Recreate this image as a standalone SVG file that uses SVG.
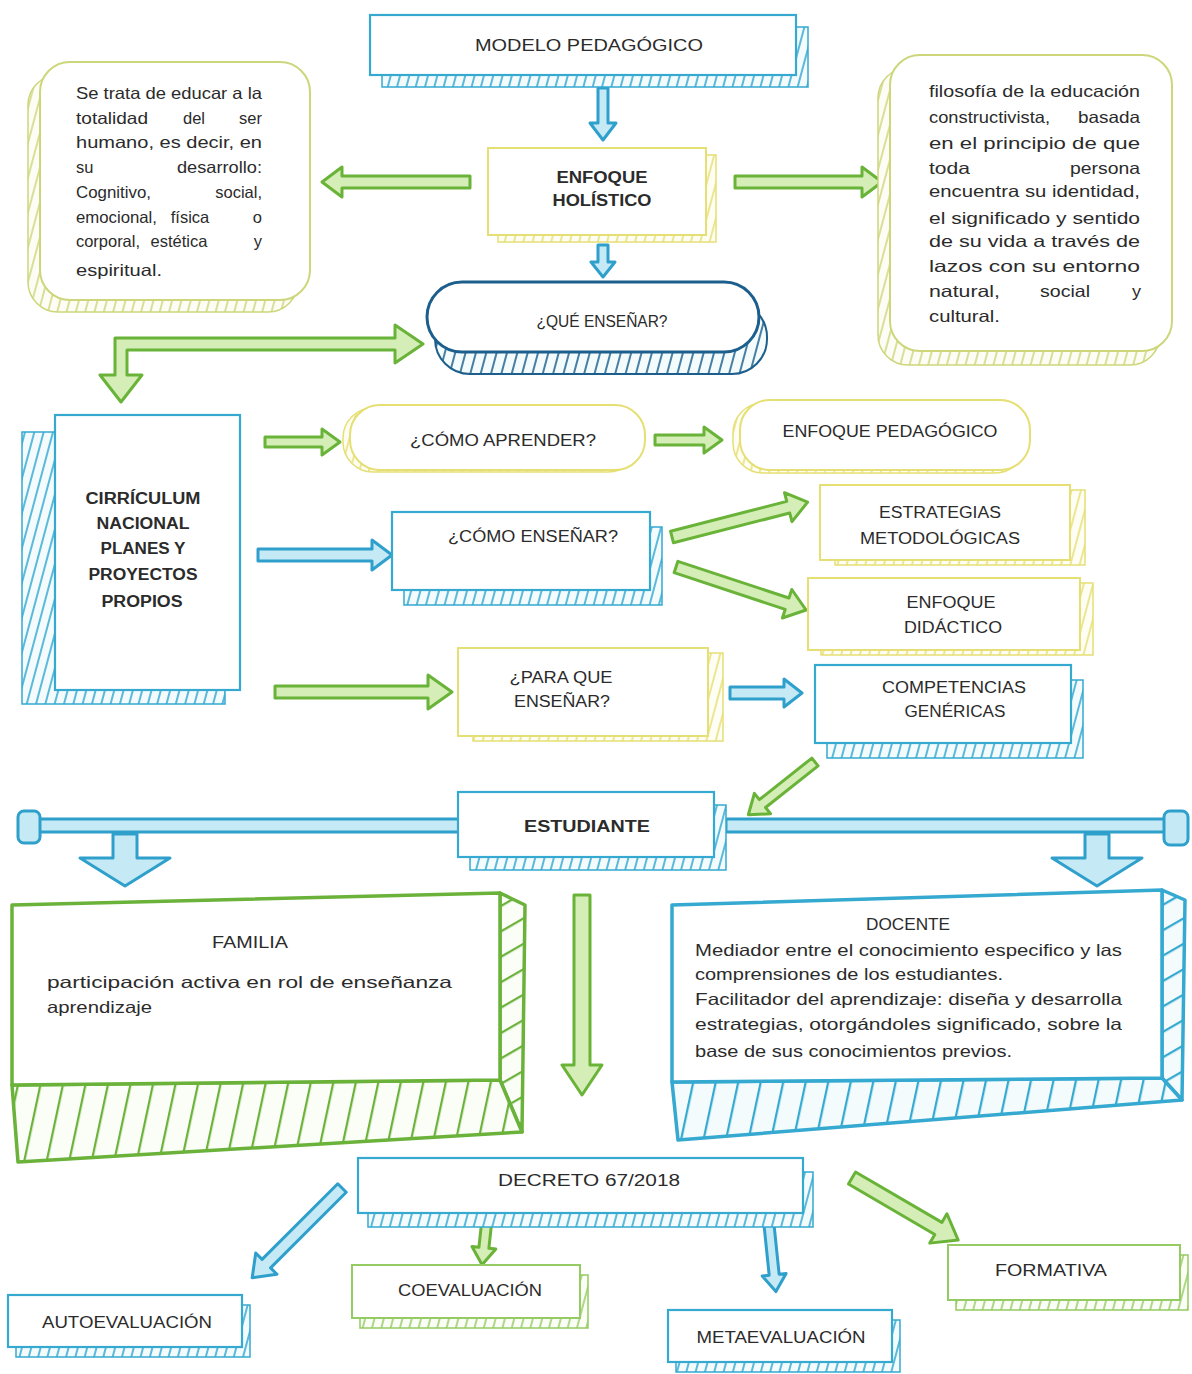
<svg xmlns="http://www.w3.org/2000/svg" width="1192" height="1374" viewBox="0 0 1192 1374">
<defs>
<pattern id="hB" width="9" height="9" patternUnits="userSpaceOnUse" patternTransform="rotate(15)"><rect width="9" height="9" fill="#f3fbfd"/><line x1="1" y1="0" x2="1" y2="9" stroke="#35a9d0" stroke-width="1.6"/></pattern>
<pattern id="hBD" width="10" height="10" patternUnits="userSpaceOnUse" patternTransform="rotate(15)"><rect width="10" height="10" fill="#f3fbfd"/><line x1="1" y1="0" x2="1" y2="10" stroke="#1d5f8c" stroke-width="1.6"/></pattern>
<pattern id="hG" width="22" height="22" patternUnits="userSpaceOnUse" patternTransform="rotate(12)"><rect width="22" height="22" fill="#fbfdf7"/><line x1="1" y1="0" x2="1" y2="22" stroke="#6ab23a" stroke-width="2.5"/></pattern>
<pattern id="hGH" width="22" height="22" patternUnits="userSpaceOnUse" patternTransform="rotate(60)"><rect width="22" height="22" fill="#fbfdf7"/><line x1="1" y1="0" x2="1" y2="22" stroke="#6ab23a" stroke-width="2.5"/></pattern>
<pattern id="hBB" width="22" height="22" patternUnits="userSpaceOnUse" patternTransform="rotate(12)"><rect width="22" height="22" fill="#f3fbfd"/><line x1="1" y1="0" x2="1" y2="22" stroke="#35a9d0" stroke-width="2.5"/></pattern>
<pattern id="hBH" width="22" height="22" patternUnits="userSpaceOnUse" patternTransform="rotate(60)"><rect width="22" height="22" fill="#f3fbfd"/><line x1="1" y1="0" x2="1" y2="22" stroke="#35a9d0" stroke-width="2.5"/></pattern>
<pattern id="hGs" width="9" height="9" patternUnits="userSpaceOnUse" patternTransform="rotate(15)"><rect width="9" height="9" fill="#fbfdf7"/><line x1="1" y1="0" x2="1" y2="9" stroke="#94cb62" stroke-width="1.5"/></pattern>
<pattern id="hY" width="9" height="9" patternUnits="userSpaceOnUse" patternTransform="rotate(15)"><rect width="9" height="9" fill="#fefef4"/><line x1="1" y1="0" x2="1" y2="9" stroke="#e6df74" stroke-width="1.5"/></pattern>
<pattern id="hYG" width="9" height="9" patternUnits="userSpaceOnUse" patternTransform="rotate(15)"><rect width="9" height="9" fill="#fdfdf5"/><line x1="1" y1="0" x2="1" y2="9" stroke="#cdd67a" stroke-width="1.5"/></pattern>
</defs>
<style>
.t{font-family:"Liberation Sans",Arial,sans-serif;font-size:16px;fill:#2b2b2b}
.c{text-anchor:middle}
.e{text-anchor:end}
.b{font-weight:bold}
.p{font-size:16.5px}
.fb{fill:#fff;stroke:#35a9d0;stroke-width:2.2}
.fbd{fill:#fff;stroke:#1d5f8c;stroke-width:3}
.fg{fill:#fff;stroke:#6ab23a;stroke-width:3.5}
.fgs{fill:#fff;stroke:#94cb62;stroke-width:2}
.fy{fill:#fff;stroke:#e6df74;stroke-width:2}
.fyg{fill:#fff;stroke:#cdd67a;stroke-width:2}
.sb{fill:url(#hB);stroke:#35a9d0;stroke-width:1.5}
.sbd{fill:url(#hBD);stroke:#1d5f8c;stroke-width:2}
.sg{fill:url(#hGs);stroke:#94cb62;stroke-width:1.5}
.sy{fill:url(#hY);stroke:#e6df74;stroke-width:1.5}
.syg{fill:url(#hYG);stroke:#cdd67a;stroke-width:1.5}
.ag{fill:#d5edb6;stroke:#69b338;stroke-width:3;stroke-linejoin:round}
.ab{fill:#c6eaf5;stroke:#2f9fcb;stroke-width:3;stroke-linejoin:round}
</style>
<rect width="1192" height="1374" fill="#fff"/>

<g id="connectors">
<path class="ab" transform="translate(603,88) rotate(90)" d="M0,-5H35V-13L52,0L35,13V5H0Z"/>
<path class="ag" transform="translate(470,182) rotate(180)" d="M0,-6H128V-15L148,0L128,15V6H0Z"/>
<path class="ag" transform="translate(735,182)" d="M0,-6H127V-15L147,0L127,15V6H0Z"/>
<path class="ab" transform="translate(603,245) rotate(90)" d="M0,-5H17V-12L32,0L17,12V5H0Z"/>
<path class="ag" d="M115,338H395V325L423,344L395,363V350H127V375H142L121,402L100,375H115Z"/>
<path class="ag" transform="translate(265,442)" d="M0,-5H57V-13L75,0L57,13V5H0Z"/>
<path class="ag" transform="translate(655,440)" d="M0,-5H49V-13L67,0L49,13V5H0Z"/>
<path class="ab" transform="translate(258,555)" d="M0,-6H114V-15L134,0L114,15V6H0Z"/>
<path class="ag" transform="translate(672,537) rotate(-14.4)" d="M0,-6H120V-15L140,0L120,15V6H0Z"/>
<path class="ag" transform="translate(676,567) rotate(18.3)" d="M0,-6H117V-15L137,0L117,15V6H0Z"/>
<path class="ag" transform="translate(275,692)" d="M0,-6H153V-17L177,0L153,17V6H0Z"/>
<path class="ab" transform="translate(730,693)" d="M0,-6H54V-14L72,0L54,14V6H0Z"/>
<path class="ag" transform="translate(815,762) rotate(141.65)" d="M0,-5H67V-13L85,0L67,13V5H0Z"/>
<rect class="ab" x="30" y="819" width="430" height="13"/>
<rect class="ab" x="18" y="811" width="22" height="32" rx="6"/>
<path class="ab" transform="translate(125,834) rotate(90)" d="M0,-12H24V-45L52,0L24,45V12H0Z"/>
<rect class="ab" x="726" y="819" width="446" height="13"/>
<rect class="ab" x="1164" y="811" width="24" height="34" rx="6"/>
<path class="ab" transform="translate(1097,834) rotate(90)" d="M0,-12H24V-45L52,0L24,45V12H0Z"/>
<path class="ag" transform="translate(582,895) rotate(90)" d="M0,-8H170V-20L200,0L170,20V8H0Z"/>
<path class="ab" transform="translate(342,1188) rotate(135)" d="M0,-6H107V-15L127,0L107,15V6H0Z"/>
<path class="ag" transform="translate(488,1210) rotate(96.2)" d="M0,-5H38V-12L55,0L38,12V5H0Z"/>
<path class="ab" transform="translate(768,1215) rotate(84.1)" d="M0,-5H60V-12L77,0L60,12V5H0Z"/>
<path class="ag" transform="translate(852,1178) rotate(30.3)" d="M0,-7H100V-17L123,0L100,17V7H0Z"/>
</g>

<g id="n-modelo">
<rect class="sb" x="382" y="27" width="426" height="60"/>
<rect class="fb" x="370" y="15" width="426" height="60"/>
<text class="t c" x="589" y="51" textLength="228" lengthAdjust="spacingAndGlyphs">MODELO PEDAGÓGICO</text>
</g>

<g id="n-holistico">
<rect class="sy" x="498" y="155" width="218" height="87"/>
<rect class="fy" x="488" y="148" width="218" height="87"/>
<text class="t c b" x="602" y="183" textLength="91" lengthAdjust="spacingAndGlyphs">ENFOQUE</text>
<text class="t c b" x="602" y="206" textLength="99" lengthAdjust="spacingAndGlyphs">HOLÍSTICO</text>
</g>

<g id="n-holistico-def">
<rect class="syg" x="28" y="75" width="270" height="237" rx="30"/>
<rect class="fyg" x="40" y="62" width="270" height="238" rx="30"/>
<text class="t p" x="76" y="99" textLength="186" lengthAdjust="spacingAndGlyphs">Se trata de educar a la</text>
<text class="t p" x="76" y="124" textLength="72" lengthAdjust="spacingAndGlyphs">totalidad</text><text class="t p c" x="194" y="124">del</text><text class="t p e" x="262" y="124">ser</text>
<text class="t p" x="76" y="148" textLength="186" lengthAdjust="spacingAndGlyphs">humano, es decir, en</text>
<text class="t p" x="76" y="173">su</text><text class="t p" x="177" y="173" textLength="85" lengthAdjust="spacingAndGlyphs">desarrollo:</text>
<text class="t p" x="76" y="198" textLength="75" lengthAdjust="spacingAndGlyphs">Cognitivo,</text><text class="t p e" x="262" y="198">social,</text>
<text class="t p" x="76" y="223" textLength="81" lengthAdjust="spacingAndGlyphs">emocional,</text><text class="t p c" x="190" y="223">física</text><text class="t p e" x="262" y="223">o</text>
<text class="t p" x="76" y="247" textLength="64" lengthAdjust="spacingAndGlyphs">corporal,</text><text class="t p c" x="179" y="247">estética</text><text class="t p e" x="262" y="247">y</text>
<text class="t p" x="76" y="276" textLength="86" lengthAdjust="spacingAndGlyphs">espiritual.</text>
</g>

<g id="n-filosofia">
<rect class="syg" x="878" y="68" width="282" height="297" rx="30"/>
<rect class="fyg" x="890" y="55" width="282" height="296" rx="30"/>
<text class="t p" x="929" y="97" textLength="211" lengthAdjust="spacingAndGlyphs">filosofía de la educación</text>
<text class="t p" x="929" y="123" textLength="121" lengthAdjust="spacingAndGlyphs">constructivista,</text><text class="t p" x="1078" y="123" textLength="62" lengthAdjust="spacingAndGlyphs">basada</text>
<text class="t p" x="929" y="149" textLength="211" lengthAdjust="spacingAndGlyphs">en el principio de que</text>
<text class="t p" x="929" y="174" textLength="41" lengthAdjust="spacingAndGlyphs">toda</text><text class="t p" x="1070" y="174" textLength="70" lengthAdjust="spacingAndGlyphs">persona</text>
<text class="t p" x="929" y="197" textLength="211" lengthAdjust="spacingAndGlyphs">encuentra su identidad,</text>
<text class="t p" x="929" y="224" textLength="211" lengthAdjust="spacingAndGlyphs">el significado y sentido</text>
<text class="t p" x="929" y="247" textLength="211" lengthAdjust="spacingAndGlyphs">de su vida a través de</text>
<text class="t p" x="929" y="272" textLength="211" lengthAdjust="spacingAndGlyphs">lazos con su entorno</text>
<text class="t p" x="929" y="297" textLength="71" lengthAdjust="spacingAndGlyphs">natural,</text><text class="t p" x="1040" y="297" textLength="50" lengthAdjust="spacingAndGlyphs">social</text><text class="t p" x="1132" y="297" textLength="9" lengthAdjust="spacingAndGlyphs">y</text>
<text class="t p" x="929" y="322" textLength="71" lengthAdjust="spacingAndGlyphs">cultural.</text>
</g>

<g id="n-que">
<rect class="sbd" x="435" y="302" width="332" height="72" rx="35"/>
<rect class="fbd" x="427" y="282" width="332" height="70" rx="35"/>
<text class="t c" x="602" y="327" textLength="131" lengthAdjust="spacingAndGlyphs">¿QUÉ ENSEÑAR?</text>
</g>

<g id="n-curriculum">
<rect class="sb" x="22" y="432" width="203" height="272"/>
<rect class="fb" x="55" y="415" width="185" height="275"/>
<text class="t c b" x="143" y="504" textLength="115" lengthAdjust="spacingAndGlyphs">CIRRÍCULUM</text>
<text class="t c b" x="143" y="529" textLength="93" lengthAdjust="spacingAndGlyphs">NACIONAL</text>
<text class="t c b" x="143" y="554" textLength="85" lengthAdjust="spacingAndGlyphs">PLANES Y</text>
<text class="t c b" x="143" y="580" textLength="109" lengthAdjust="spacingAndGlyphs">PROYECTOS</text>
<text class="t c b" x="142" y="607" textLength="81" lengthAdjust="spacingAndGlyphs">PROPIOS</text>
</g>

<g id="n-aprender">
<rect class="sy" x="343" y="408" width="295" height="64" rx="30"/>
<rect class="fy" x="350" y="405" width="295" height="65" rx="30"/>
<text class="t c" x="503" y="446" textLength="186" lengthAdjust="spacingAndGlyphs">¿CÓMO APRENDER?</text>
</g>

<g id="n-enfoque-ped">
<rect class="sy" x="733" y="403" width="292" height="70" rx="30"/>
<rect class="fy" x="740" y="400" width="290" height="70" rx="30"/>
<text class="t c" x="890" y="437" textLength="215" lengthAdjust="spacingAndGlyphs">ENFOQUE PEDAGÓGICO</text>
</g>

<g id="n-ensenar">
<rect class="sb" x="404" y="527" width="258" height="78"/>
<rect class="fb" x="392" y="512" width="258" height="78"/>
<text class="t c" x="533" y="542" textLength="170" lengthAdjust="spacingAndGlyphs">¿CÓMO ENSEÑAR?</text>
</g>

<g id="n-estrategias">
<rect class="sy" x="835" y="490" width="250" height="75"/>
<rect class="fy" x="820" y="485" width="250" height="75"/>
<text class="t c" x="940" y="518" textLength="122" lengthAdjust="spacingAndGlyphs">ESTRATEGIAS</text>
<text class="t c" x="940" y="544" textLength="160" lengthAdjust="spacingAndGlyphs">METODOLÓGICAS</text>
</g>

<g id="n-didactico">
<rect class="sy" x="821" y="583" width="272" height="72"/>
<rect class="fy" x="808" y="578" width="272" height="72"/>
<text class="t c" x="951" y="608" textLength="89" lengthAdjust="spacingAndGlyphs">ENFOQUE</text>
<text class="t c" x="953" y="633" textLength="98" lengthAdjust="spacingAndGlyphs">DIDÁCTICO</text>
</g>

<g id="n-para">
<rect class="sy" x="473" y="653" width="250" height="88"/>
<rect class="fy" x="458" y="648" width="250" height="88"/>
<text class="t c" x="561" y="683" textLength="103" lengthAdjust="spacingAndGlyphs">¿PARA QUE</text>
<text class="t c" x="562" y="707" textLength="96" lengthAdjust="spacingAndGlyphs">ENSEÑAR?</text>
</g>

<g id="n-competencias">
<rect class="sb" x="827" y="680" width="256" height="78"/>
<rect class="fb" x="815" y="665" width="256" height="78"/>
<text class="t c" x="954" y="693" textLength="144" lengthAdjust="spacingAndGlyphs">COMPETENCIAS</text>
<text class="t c" x="955" y="717" textLength="101" lengthAdjust="spacingAndGlyphs">GENÉRICAS</text>
</g>

<g id="n-estudiante">
<rect class="sb" x="470" y="805" width="256" height="65"/>
<rect class="fb" x="458" y="792" width="256" height="65"/>
<text class="t c b" x="587" y="832" textLength="126" lengthAdjust="spacingAndGlyphs">ESTUDIANTE</text>
</g>

<g id="n-familia">
<polygon points="500,893 525,905 522,1132 500,1080" fill="url(#hGH)" stroke="#6ab23a" stroke-width="3.5" stroke-linejoin="round"/>
<polygon points="12,1085 500,1080 522,1132 18,1162" fill="url(#hG)" stroke="#6ab23a" stroke-width="3.5" stroke-linejoin="round"/>
<polygon class="fg" points="12,905 500,893 500,1080 12,1085" stroke-linejoin="round"/>
<text class="t c" x="250" y="948" textLength="76" lengthAdjust="spacingAndGlyphs">FAMILIA</text>
<text class="t p" x="47" y="988" textLength="405" lengthAdjust="spacingAndGlyphs">participación activa en rol de enseñanza</text>
<text class="t p" x="47" y="1013" textLength="105" lengthAdjust="spacingAndGlyphs">aprendizaje</text>
</g>

<g id="n-docente">
<polygon points="1162,890 1185,900 1182,1100 1162,1078" fill="url(#hBH)" stroke="#35a9d0" stroke-width="3.5" stroke-linejoin="round"/>
<polygon points="672,1082 1162,1078 1182,1100 678,1140" fill="url(#hBB)" stroke="#35a9d0" stroke-width="3.5" stroke-linejoin="round"/>
<polygon points="672,905 1162,890 1162,1078 672,1082" fill="#fff" stroke="#35a9d0" stroke-width="3.5" stroke-linejoin="round"/>
<text class="t c" x="908" y="930" textLength="84" lengthAdjust="spacingAndGlyphs">DOCENTE</text>
<text class="t p" x="695" y="956" textLength="427" lengthAdjust="spacingAndGlyphs">Mediador entre el conocimiento especifico y las</text>
<text class="t p" x="695" y="980" textLength="308" lengthAdjust="spacingAndGlyphs">comprensiones de los estudiantes.</text>
<text class="t p" x="695" y="1005" textLength="427" lengthAdjust="spacingAndGlyphs">Facilitador del aprendizaje: diseña y desarrolla</text>
<text class="t p" x="695" y="1030" textLength="427" lengthAdjust="spacingAndGlyphs">estrategias, otorgándoles significado, sobre la</text>
<text class="t p" x="695" y="1057" textLength="317" lengthAdjust="spacingAndGlyphs">base de sus conocimientos previos.</text>
</g>

<g id="n-decreto">
<rect class="sb" x="368" y="1172" width="445" height="55"/>
<rect class="fb" x="358" y="1158" width="445" height="55"/>
<text class="t c" x="589" y="1186" textLength="182" lengthAdjust="spacingAndGlyphs">DECRETO 67/2018</text>
</g>

<g id="n-auto">
<rect class="sb" x="16" y="1305" width="234" height="52"/>
<rect class="fb" x="8" y="1295" width="234" height="52"/>
<text class="t c" x="127" y="1328" textLength="170" lengthAdjust="spacingAndGlyphs">AUTOEVALUACIÓN</text>
</g>

<g id="n-coeval">
<rect class="sg" x="360" y="1275" width="228" height="53"/>
<rect class="fgs" x="352" y="1265" width="228" height="53"/>
<text class="t c" x="470" y="1296" textLength="144" lengthAdjust="spacingAndGlyphs">COEVALUACIÓN</text>
</g>

<g id="n-meta">
<rect class="sb" x="676" y="1320" width="224" height="52"/>
<rect class="fb" x="668" y="1310" width="224" height="52"/>
<text class="t c" x="781" y="1343" textLength="169" lengthAdjust="spacingAndGlyphs">METAEVALUACIÓN</text>
</g>

<g id="n-formativa">
<rect class="sg" x="956" y="1255" width="232" height="55"/>
<rect class="fgs" x="948" y="1245" width="232" height="55"/>
<text class="t c" x="1051" y="1276" textLength="112" lengthAdjust="spacingAndGlyphs">FORMATIVA</text>
</g>
</svg>
